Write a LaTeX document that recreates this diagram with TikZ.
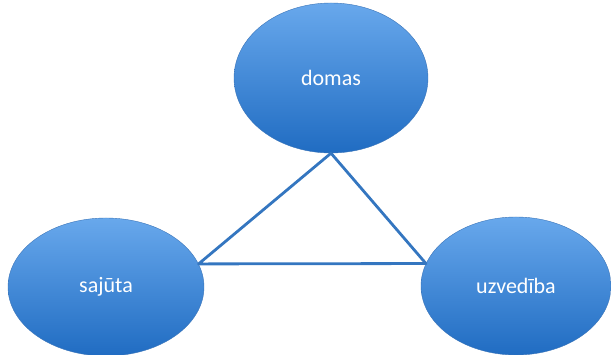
\documentclass[tikz,border=0pt]{standalone}
\usepackage{fontspec}
\setmainfont{Carlito}
\usetikzlibrary{shapes.geometric}

\definecolor{blobtop}{RGB}{104,168,236}
\definecolor{blobbot}{RGB}{32,108,194}
\definecolor{blobrim}{RGB}{58,116,184}
\definecolor{linkblue}{RGB}{52,118,192}

\tikzset{
  blob/.style={ellipse,draw=blobrim,thin,top color=blobtop,bottom color=blobbot,
    text=white,font=\fontsize{22}{26}\selectfont,inner sep=0pt},
  link/.style={linkblue,line width=2.8pt,line join=round}
}

\begin{document}
\begin{tikzpicture}[x=1pt,y=1pt]
  \useasboundingbox (0,0) rectangle (611,355);
  \node[blob,minimum width=194pt,minimum height=150pt] (domas) at (331,277) {domas};
  \node[blob,minimum width=196pt,minimum height=138pt] (sajuta) at (106,68) {sajūta};
  \node[blob,minimum width=190pt,minimum height=138pt] (uzvediba) at (516,69) {uzvedība};
  % triangle between the three
  \draw[link] (domas.south) -- (sajuta.14) -- (uzvediba.166) -- cycle;
\end{tikzpicture}
\end{document}
